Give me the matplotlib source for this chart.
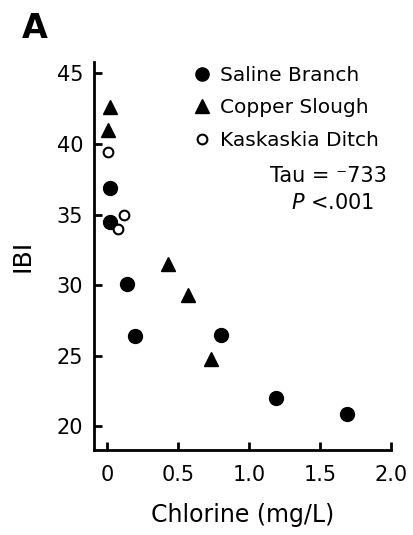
import matplotlib
matplotlib.use("Agg")
import matplotlib.pyplot as plt
from matplotlib.lines import Line2D

# Data (Chlorine mg/L vs IBI)
saline_x = [0.02, 0.02, 0.14, 0.20, 0.80, 1.19, 1.69]
saline_y = [36.9, 34.5, 30.1, 26.4, 26.5, 22.0, 20.9]

copper_x = [0.02, 0.01, 0.43, 0.57, 0.73]
copper_y = [42.6, 41.0, 31.5, 29.3, 24.8]

kask_x = [0.01, 0.12, 0.08]
kask_y = [39.4, 35.0, 34.0]

xticks = [0, 0.5, 1.0, 1.5, 2.0]
xtick_labels = ["0", "0.5", "1.0", "1.5", "2.0"]
yticks = [20, 25, 30, 35, 40, 45]

plt.rcParams['font.family'] = ['DejaVu Sans']

fig = plt.figure(figsize=(4.13, 5.35), dpi=100)
ax = fig.add_axes([0.228, 0.159, 0.719, 0.726])

ax.plot(saline_x, saline_y, 'o', color='black', markersize=10, ls='none')
ax.plot(copper_x, copper_y, '^', color='black', markersize=10, ls='none')
ax.plot(kask_x, kask_y, 'o', markerfacecolor='white', markeredgecolor='black',
        markeredgewidth=1.5, markersize=7, ls='none')

ax.set_xlim(-0.09, 2.0)
ax.set_ylim(18.34, 45.83)
ax.set_xticks(xticks)
ax.set_xticklabels(xtick_labels)
ax.set_yticks(yticks)

for side in ['top', 'right']:
    ax.spines[side].set_visible(False)
for side in ['left', 'bottom']:
    ax.spines[side].set_linewidth(2)

ax.tick_params(direction='in', length=6, width=2, labelsize=15)
ax.tick_params(axis='x', pad=11)
ax.tick_params(axis='y', pad=8)

ax.set_xlabel("Chlorine (mg/L)", fontsize=17, labelpad=13)
ax.set_ylabel("IBI", fontsize=18, labelpad=16)

# legend in the upper right
handles = [
    Line2D([], [], marker='o', color='black', ls='none', markersize=9.5),
    Line2D([], [], marker='^', color='black', ls='none', markersize=9.5),
    Line2D([], [], marker='o', markerfacecolor='white', markeredgecolor='black',
           markeredgewidth=1.5, ls='none', markersize=7),
]
labels = ["Saline Branch", "Copper Slough", "Kaskaskia Ditch"]
ax.legend(handles, labels, loc='upper left', bbox_to_anchor=(0.31, 1.01),
          frameon=False, fontsize=14.5, handlelength=0.8, handletextpad=0.5,
          labelspacing=0.67, borderaxespad=0)

ax.text(0.593, 0.704, "Tau = \u207b733", transform=ax.transAxes,
        fontsize=15, va='center')
ax.text(0.663, 0.637, "$P$ <.001", transform=ax.transAxes,
        fontsize=15, va='center')

fig.text(0.053, 0.978, "A", fontsize=24, fontweight='bold', va='top')

plt.savefig("out.png", dpi=100)
